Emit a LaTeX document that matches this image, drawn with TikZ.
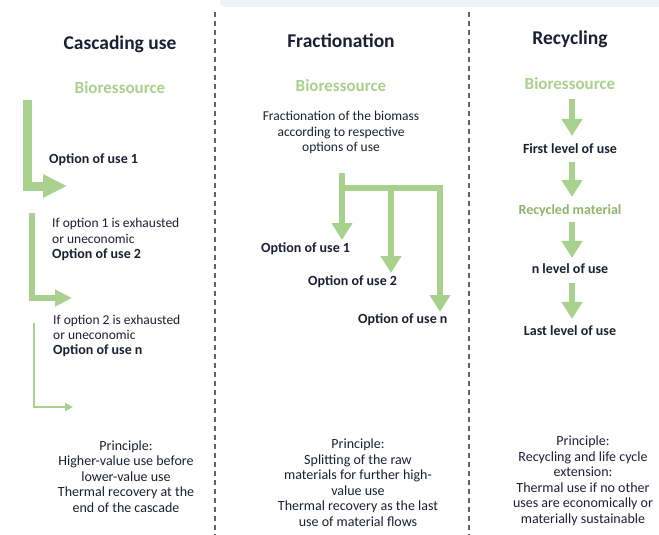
\documentclass[tikz,border=0pt]{standalone}
\usepackage{fontspec}
\setmainfont{Carlito}
\usetikzlibrary{arrows.meta}
\definecolor{leaf}{HTML}{A9D18E}
\definecolor{leafdark}{HTML}{8DB46B}
\definecolor{ink}{HTML}{1C1F33}
\definecolor{band}{HTML}{EEF3F6}
\tikzset{
	title/.style={font=\fontsize{19.5}{24}\selectfont\bfseries, text=ink, anchor=base},
	bio/.style={font=\fontsize{17}{20}\selectfont\bfseries, text=leaf, anchor=base, inner sep=0pt},
	opt/.style={font=\fontsize{14}{16}\selectfont\bfseries, text=ink, anchor=base west, inner sep=0pt},
	optc/.style={opt, anchor=base},
	note/.style={font=\fontsize{13.5}{15.5}\selectfont, text=ink, anchor=base west, inner sep=0pt},
	princ/.style={font=\fontsize{14}{15.5}\selectfont, text=ink, align=center, inner sep=0pt},
	sep/.style={draw=ink!70, line width=1.2pt, dash pattern=on 5pt off 4pt},
	arrowA/.style={leaf, line width=9pt, -{Triangle[width=22pt,length=24pt]}},
	arrowB/.style={leaf, line width=6pt, -{Triangle[width=16pt,length=17pt]}},
	arrowC/.style={leaf, line width=2.5pt, -{Triangle[width=8pt,length=8pt]}},
	arrowF/.style={leaf, line width=6pt, -{Triangle[width=20pt,length=17pt]}},
}
\begin{document}
\begin{tikzpicture}[x=1pt,y=-1pt]
	\useasboundingbox (0,0) rectangle (659,535);
	\fill[band, rounded corners=5pt] (220,-10) rectangle (670,7);
	
	\coordinate (sepL top) at (215,12);
	\coordinate (sepL bot) at (215,535);
	\coordinate (sepR top) at (469,12);
	\coordinate (sepR bot) at (469,535);
	\draw[sep] (sepL top) -- (sepL bot);
	\draw[sep] (sepR top) -- (sepR bot);
	
	\node[title] (tCasc) at (120,50) {Cascading use};
	\node[title] (tFrac) at (341,48) {Fractionation};
	\node[title] (tRec) at (570,45) {Recycling};
	
	% cascading use
	\node[bio] (bioC) at (120,94) {Bioressource};
	\node[opt] (optC1) at (49,163) {Option of use 1};
	\node[note] (ifC1) at (52,227) {If option 1 is exhausted};
	\node[note] (orC1) at (52,243) {or uneconomic};
	\node[opt] (optC2) at (52,258) {Option of use 2};
	\node[note] (ifC2) at (53,324) {If option 2 is exhausted};
	\node[note] (orC2) at (53,339) {or uneconomic};
	\node[opt] (optCn) at (53,354) {Option of use n};
	
	\coordinate (casc1) at (27.5,100);
	\coordinate (casc1 end) at (67,186);
	\coordinate (casc2) at (32,213);
	\coordinate (casc2 end) at (72,298);
	\coordinate (casc3) at (34,323);
	\coordinate (casc3 end) at (73,407);
	\draw[arrowA] (casc1) |- (casc1 end);
	\draw[arrowB] (casc2) |- (casc2 end);
	\draw[arrowC] (casc3) |- (casc3 end);
	
	% fractionation
	\node[bio] (bioF) at (341,92) {Bioressource};
	\node[note, anchor=base] (fracA) at (341,121) {Fractionation of the biomass};
	\node[note, anchor=base] (fracB) at (341,136) {according to respective};
	\node[note, anchor=base] (fracC) at (341,151) {options of use};
	\node[opt] (optF1) at (261,252) {Option of use 1};
	\node[opt] (optF2) at (308,285) {Option of use 2};
	\node[opt] (optFn) at (358,323) {Option of use n};
	
	\coordinate (stem) at (342,173);
	\coordinate (fork) at (342,188);
	\coordinate (tipF1) at (342,240);
	\coordinate (tipF2) at (391,273);
	\coordinate (tipFn) at (440,312);
	\draw[arrowF] (stem) -- (tipF1);
	\draw[arrowF] (fork) -| (tipFn);
	\draw[arrowF] (fork -| tipF2) -- (tipF2);
	
	% recycling
	\node[bio] (bioR) at (570,89) {Bioressource};
	\node[optc] (firstR) at (570,153) {First level of use};
	\node[bio, text=leafdark, font=\fontsize{14}{16}\selectfont\bfseries] (recR) at (570,214) {Recycled material};
	\node[optc] (nR) at (570,273) {n level of use};
	\node[optc] (lastR) at (570,335) {Last level of use};
	
	\draw[arrowF, shorten <=10pt, shorten >=7pt] ([xshift=2pt]bioR.south) -- ([xshift=2pt]firstR.north);
	\draw[arrowF, shorten <=9pt, shorten >=7pt] ([xshift=2pt]firstR.south) -- ([xshift=2pt]recR.north);
	\draw[arrowF, shorten <=6pt, shorten >=5pt] ([xshift=2pt]recR.south) -- ([xshift=2pt]nR.north);
	\draw[arrowF, shorten <=10pt, shorten >=6pt] ([xshift=2pt]nR.south) -- ([xshift=2pt]lastR.north);
	
	% principles
	\node[princ] (prC) at (126,476.5) {Principle:\\Higher-value use before\\lower-value use\\Thermal recovery at the\\end of the cascade};
	\node[princ] (prF) at (358,482.5) {Principle:\\Splitting of the raw\\materials for further high-\\value use\\Thermal recovery as the last\\use of material flows};
	\node[princ] (prR) at (583,481) {Principle:\\Recycling and life cycle\\extension:\\Thermal use if no other\\uses are economically or\\materially sustainable};
\end{tikzpicture}
\end{document}
